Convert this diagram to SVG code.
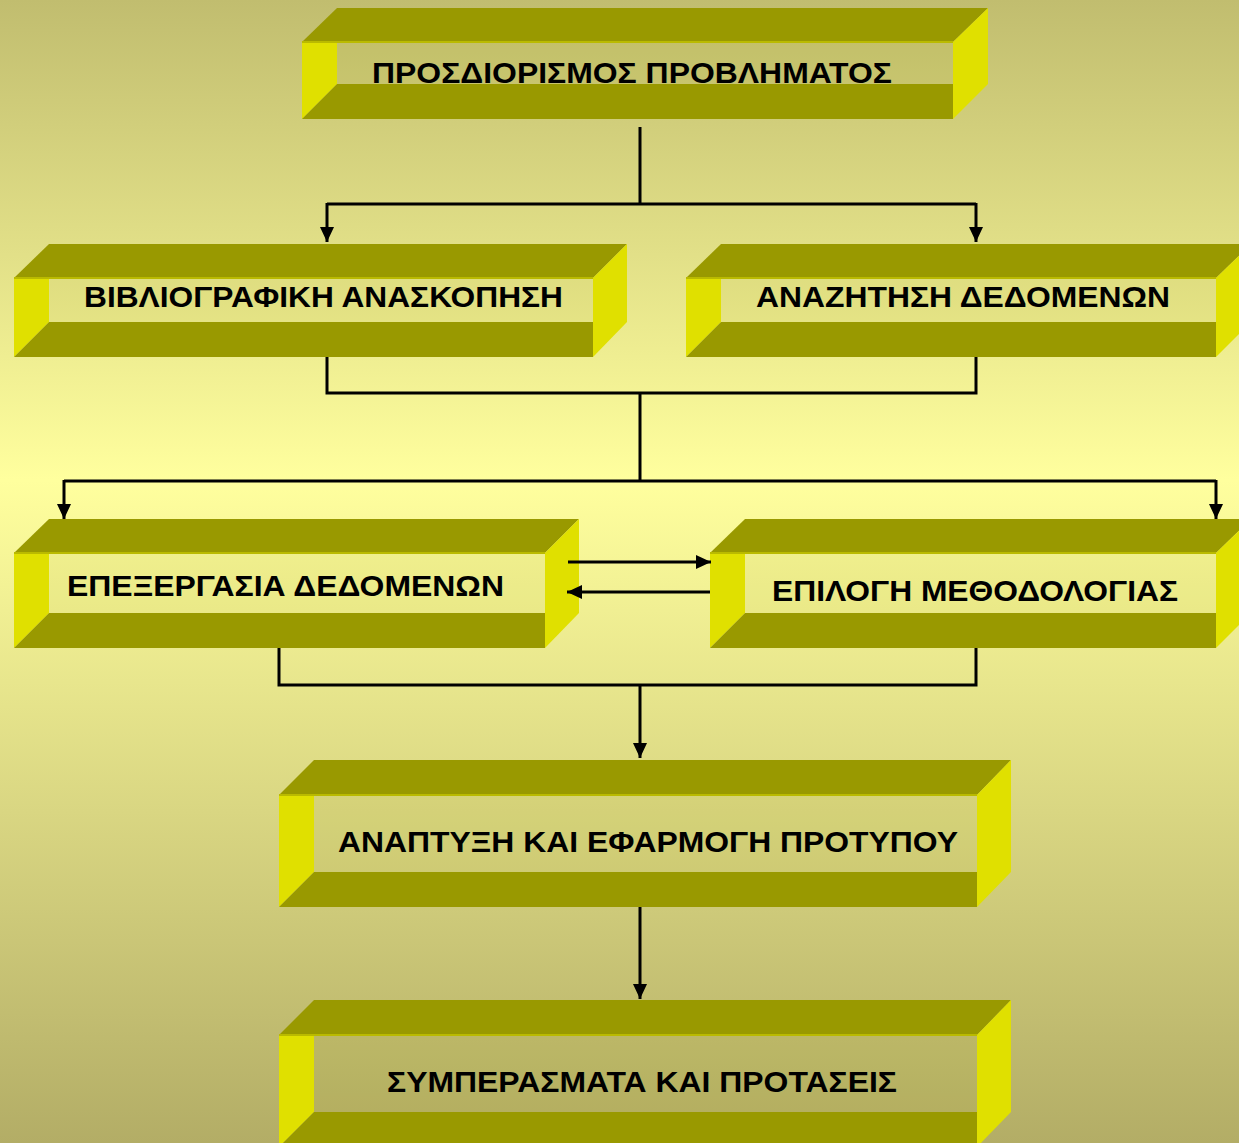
<svg xmlns="http://www.w3.org/2000/svg" width="1239" height="1143" viewBox="0 0 1239 1143">
<defs>
<linearGradient id="bg" x1="0" y1="0" x2="0" y2="1">
<stop offset="0" stop-color="#C1BD6F"/>
<stop offset="0.42" stop-color="#FFFF9E"/>
<stop offset="1" stop-color="#B3AD66"/>
</linearGradient>
<marker id="ah" viewBox="0 0 15 14" refX="15" refY="7" markerWidth="15" markerHeight="14" markerUnits="userSpaceOnUse" orient="auto">
<path d="M0,0 L15,7 L0,14 Z" fill="#000"/>
</marker>
<style>
.top{fill:#999900}
.bot{fill:#999900}
.side{fill:#E0E000}
.panel{fill:#999900;fill-opacity:0.07}
.edge{stroke:#BABA00;stroke-width:2;fill:none}
.lbl{font-family:"Liberation Sans",Arial,sans-serif;font-weight:bold;font-size:30px;fill:#000}
.con{stroke:#000;stroke-width:3;fill:none}
.arr{stroke:#000;stroke-width:3;fill:none;marker-end:url(#ah)}
</style>
</defs>
<rect width="1239" height="1143" fill="url(#bg)"/>

<g id="n1">
<rect class="panel" x="337" y="42" width="616" height="42"/>
<polygon class="top" points="302,42 337,8 988,8 953,42"/>
<polygon class="side" points="302,42 337,42 337,84 302,119"/>
<polygon class="bot" points="337,84 953,84 953,119 302,119"/>
<polygon class="side" points="953,42 988,8 988,84 953,119"/>
<line class="edge" x1="302" y1="42" x2="953" y2="42"/>
<text class="lbl" x="372" y="83" textLength="520" lengthAdjust="spacingAndGlyphs">ΠΡΟΣΔΙΟΡΙΣΜΟΣ ΠΡΟΒΛΗΜΑΤΟΣ</text>
</g>

<g id="n2">
<rect class="panel" x="49" y="278" width="544" height="44"/>
<polygon class="top" points="14,278 49,244 627,244 593,278"/>
<polygon class="side" points="14,278 49,278 49,322 14,357"/>
<polygon class="bot" points="49,322 593,322 593,357 14,357"/>
<polygon class="side" points="593,278 627,244 627,322 593,357"/>
<line class="edge" x1="14" y1="278" x2="593" y2="278"/>
<text class="lbl" x="84" y="307" textLength="479" lengthAdjust="spacingAndGlyphs">ΒΙΒΛΙΟΓΡΑΦΙΚΗ ΑΝΑΣΚΟΠΗΣΗ</text>
</g>

<g id="n3">
<rect class="panel" x="721" y="278" width="495" height="44"/>
<polygon class="top" points="686,278 721,244 1251,244 1216,278"/>
<polygon class="side" points="686,278 721,278 721,322 686,357"/>
<polygon class="bot" points="721,322 1216,322 1216,357 686,357"/>
<polygon class="side" points="1216,278 1251,244 1251,322 1216,357"/>
<line class="edge" x1="686" y1="278" x2="1216" y2="278"/>
<text class="lbl" x="756" y="307" textLength="414" lengthAdjust="spacingAndGlyphs">ΑΝΑΖΗΤΗΣΗ ΔΕΔΟΜΕΝΩΝ</text>
</g>

<g id="n4">
<rect class="panel" x="49" y="553" width="496" height="60"/>
<polygon class="top" points="14,553 49,519 579,519 545,553"/>
<polygon class="side" points="14,553 49,553 49,613 14,648"/>
<polygon class="bot" points="49,613 545,613 545,648 14,648"/>
<polygon class="side" points="545,553 579,519 579,613 545,648"/>
<line class="edge" x1="14" y1="553" x2="545" y2="553"/>
<text class="lbl" x="67" y="596" textLength="437" lengthAdjust="spacingAndGlyphs">ΕΠΕΞΕΡΓΑΣΙΑ ΔΕΔΟΜΕΝΩΝ</text>
</g>

<g id="n5">
<rect class="panel" x="745" y="553" width="471" height="60"/>
<polygon class="top" points="710,553 745,519 1251,519 1216,553"/>
<polygon class="side" points="710,553 745,553 745,613 710,648"/>
<polygon class="bot" points="745,613 1216,613 1216,648 710,648"/>
<polygon class="side" points="1216,553 1251,519 1251,613 1216,648"/>
<line class="edge" x1="710" y1="553" x2="1216" y2="553"/>
<text class="lbl" x="772" y="601" textLength="406" lengthAdjust="spacingAndGlyphs">ΕΠΙΛΟΓΗ ΜΕΘΟΔΟΛΟΓΙΑΣ</text>
</g>

<g id="n6">
<rect class="panel" x="314" y="795" width="663" height="77"/>
<polygon class="top" points="279,795 314,760 1011,760 977,795"/>
<polygon class="side" points="279,795 314,795 314,872 279,907"/>
<polygon class="bot" points="314,872 977,872 977,907 279,907"/>
<polygon class="side" points="977,795 1011,760 1011,872 977,907"/>
<line class="edge" x1="279" y1="795" x2="977" y2="795"/>
<text class="lbl" x="338" y="852" textLength="620" lengthAdjust="spacingAndGlyphs">ΑΝΑΠΤΥΞΗ ΚΑΙ ΕΦΑΡΜΟΓΗ ΠΡΟΤΥΠΟΥ</text>
</g>

<g id="n7">
<rect class="panel" x="314" y="1035" width="663" height="77"/>
<polygon class="top" points="279,1035 314,1000 1011,1000 977,1035"/>
<polygon class="side" points="279,1035 314,1035 314,1112 279,1147"/>
<polygon class="bot" points="314,1112 977,1112 977,1147 279,1147"/>
<polygon class="side" points="977,1035 1011,1000 1011,1112 977,1147"/>
<line class="edge" x1="279" y1="1035" x2="977" y2="1035"/>
<text class="lbl" x="387" y="1092" textLength="510" lengthAdjust="spacingAndGlyphs">ΣΥΜΠΕΡΑΣΜΑΤΑ ΚΑΙ ΠΡΟΤΑΣΕΙΣ</text>
</g>

<g id="connectors">
<line class="con" x1="640" y1="127" x2="640" y2="204"/>
<line class="con" x1="327" y1="204" x2="976" y2="204"/>
<line class="arr" x1="327" y1="203" x2="327" y2="242"/>
<line class="arr" x1="976" y1="203" x2="976" y2="242"/>
<polyline class="con" points="327,357 327,393 976,393 976,357"/>
<line class="con" x1="640" y1="393" x2="640" y2="481"/>
<line class="con" x1="64" y1="481" x2="1216" y2="481"/>
<line class="arr" x1="64" y1="480" x2="64" y2="519"/>
<line class="arr" x1="1216" y1="480" x2="1216" y2="519"/>
<line class="arr" x1="568" y1="562" x2="711" y2="562"/>
<line class="arr" x1="710" y1="592" x2="567" y2="592"/>
<polyline class="con" points="279,648 279,685 976,685 976,648"/>
<line class="arr" x1="640" y1="685" x2="640" y2="758"/>
<line class="arr" x1="640" y1="907" x2="640" y2="999"/>
</g>
</svg>
